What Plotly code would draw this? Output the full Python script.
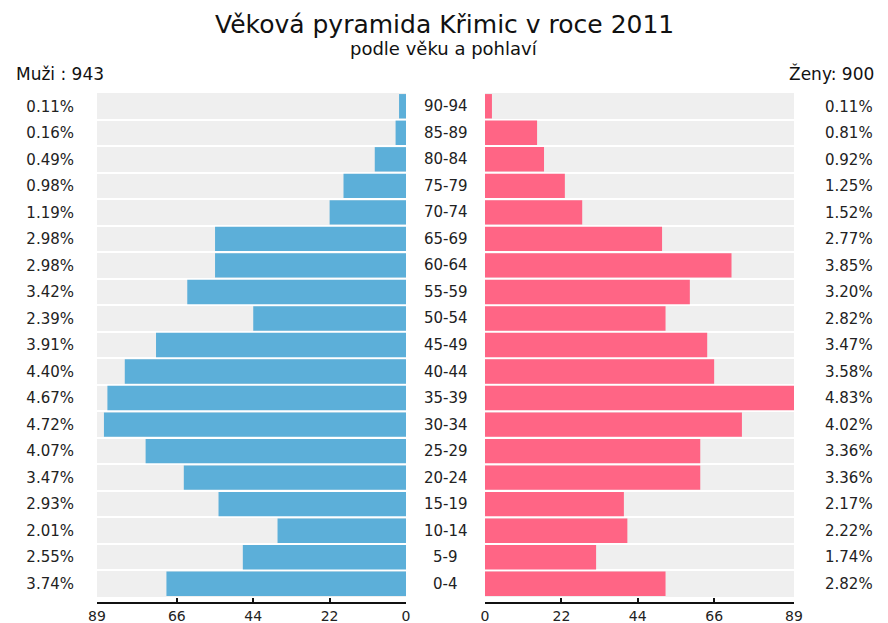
import plotly.graph_objects as go

# ---- data (bottom row first) ----
ages = ["0-4", "5-9", "10-14", "15-19", "20-24", "25-29", "30-34", "35-39", "40-44",
        "45-49", "50-54", "55-59", "60-64", "65-69", "70-74", "75-79", "80-84", "85-89", "90-94"]
men = [69, 47, 37, 54, 64, 75, 87, 86, 81, 72, 44, 63, 55, 55, 22, 18, 9, 3, 2]
women = [52, 32, 41, 40, 62, 62, 74, 89, 66, 64, 52, 59, 71, 51, 28, 23, 17, 15, 2]
men_pct = ["3.74%", "2.55%", "2.01%", "2.93%", "3.47%", "4.07%", "4.72%", "4.67%", "4.40%",
           "3.91%", "2.39%", "3.42%", "2.98%", "2.98%", "1.19%", "0.98%", "0.49%", "0.16%", "0.11%"]
women_pct = ["2.82%", "1.74%", "2.22%", "2.17%", "3.36%", "3.36%", "4.02%", "4.83%", "3.58%",
             "3.47%", "2.82%", "3.20%", "3.85%", "2.77%", "1.52%", "1.25%", "0.92%", "0.81%", "0.11%"]
x_ticks = [0, 22, 44, 66, 89]
x_max = 89
title = "Věková pyramida Křimic v roce 2011"
subtitle = "podle věku a pohlaví"
men_label = "Muži : 943"
women_label = "Ženy: 900"

FONT = "DejaVu Sans"
TXT = "#222222"
BLUE = "#5cafd9"
PINK = "#ff6585"
GREY = "#efefef"

# the page body has an 8px margin, so the figure is drawn 8px in from the window corner
OFF = 8
W, H = 888 - OFF, 623 - OFF
def px(x):
    return (x - OFF) / W
def py(y):
    return 1 - (y - OFF) / H

idx = list(range(len(ages)))

fig = go.Figure()
fig.add_trace(go.Bar(y=idx, x=men, orientation="h", xaxis="x", yaxis="y",
                     marker=dict(color=BLUE, line=dict(width=0)), width=0.92,
                     hoverinfo="skip", showlegend=False))
fig.add_trace(go.Bar(y=idx, x=women, orientation="h", xaxis="x2", yaxis="y2",
                     marker=dict(color=PINK, line=dict(width=0)), width=0.92,
                     hoverinfo="skip", showlegend=False))

left_dom = [px(97), px(406)]
right_dom = [px(485), px(794)]
y_dom = [py(597), py(93)]
axis_pos = py(603)

xcommon = dict(tickvals=x_ticks, ticktext=[str(v) for v in x_ticks], showgrid=False,
               zeroline=False, showline=True, linecolor="#111111", linewidth=1.5,
               ticks="inside", ticklen=4, tickwidth=1.5, tickcolor="#111111",
               tickfont=dict(family=FONT, size=14, color=TXT), anchor="free",
               position=axis_pos, automargin=False, fixedrange=True)
xover = dict(tickvals=x_ticks, showticklabels=False, showgrid=False, zeroline=False,
             showline=False, ticks="outside", ticklen=3, tickwidth=1.5, tickcolor="#111111",
             anchor="free", position=axis_pos, automargin=False, fixedrange=True)
ycommon = dict(range=[-0.5, len(ages) - 0.5], tickvals=idx, showgrid=False, zeroline=False,
               showline=False, ticks="", tickfont=dict(family=FONT, size=15, color=TXT),
               domain=y_dom, automargin=False, fixedrange=True,
               minor=dict(tick0=0.5, dtick=1, showgrid=True, gridcolor="white", gridwidth=2, ticks=""))

fig.update_layout(
    width=W, height=H,
    margin=dict(l=0, r=0, t=0, b=0),
    paper_bgcolor="white", plot_bgcolor=GREY,
    barmode="overlay",
    xaxis=dict(domain=left_dom, range=[x_max, 0], **xcommon),
    xaxis2=dict(domain=right_dom, range=[0, x_max], **xcommon),
    xaxis3=dict(domain=left_dom, range=[x_max, 0], overlaying="x", **xover),
    xaxis4=dict(domain=right_dom, range=[0, x_max], overlaying="x2", **xover),
    yaxis=dict(anchor="x", side="left", ticktext=men_pct, ticklabelstandoff=22, **ycommon),
    yaxis2=dict(anchor="x2", side="right", ticktext=women_pct, ticklabelstandoff=30, **ycommon),
)

annotations = [
    dict(text=title, x=px(444), y=py(25), xref="paper", yref="paper", showarrow=False,
         font=dict(family=FONT, size=25, color="#111111"), xanchor="center", yanchor="middle"),
    dict(text=subtitle, x=px(444), y=py(49), xref="paper", yref="paper", showarrow=False,
         font=dict(family=FONT, size=18, color="#111111"), xanchor="center", yanchor="middle"),
    dict(text=men_label, x=px(14), y=py(74), xref="paper", yref="paper", showarrow=False,
         font=dict(family=FONT, size=17, color="#111111"), xanchor="left", yanchor="middle"),
    dict(text=women_label, x=px(876), y=py(74), xref="paper", yref="paper", showarrow=False,
         font=dict(family=FONT, size=17, color="#111111"), xanchor="right", yanchor="middle"),
]
for i, a in zip(idx, ages):
    annotations.append(dict(text=a, x=px(445.5), y=i, xref="paper", yref="y", showarrow=False,
                            font=dict(family=FONT, size=15, color=TXT),
                            xanchor="center", yanchor="middle"))
fig.update_layout(annotations=annotations)

fig.write_html("out.html")
